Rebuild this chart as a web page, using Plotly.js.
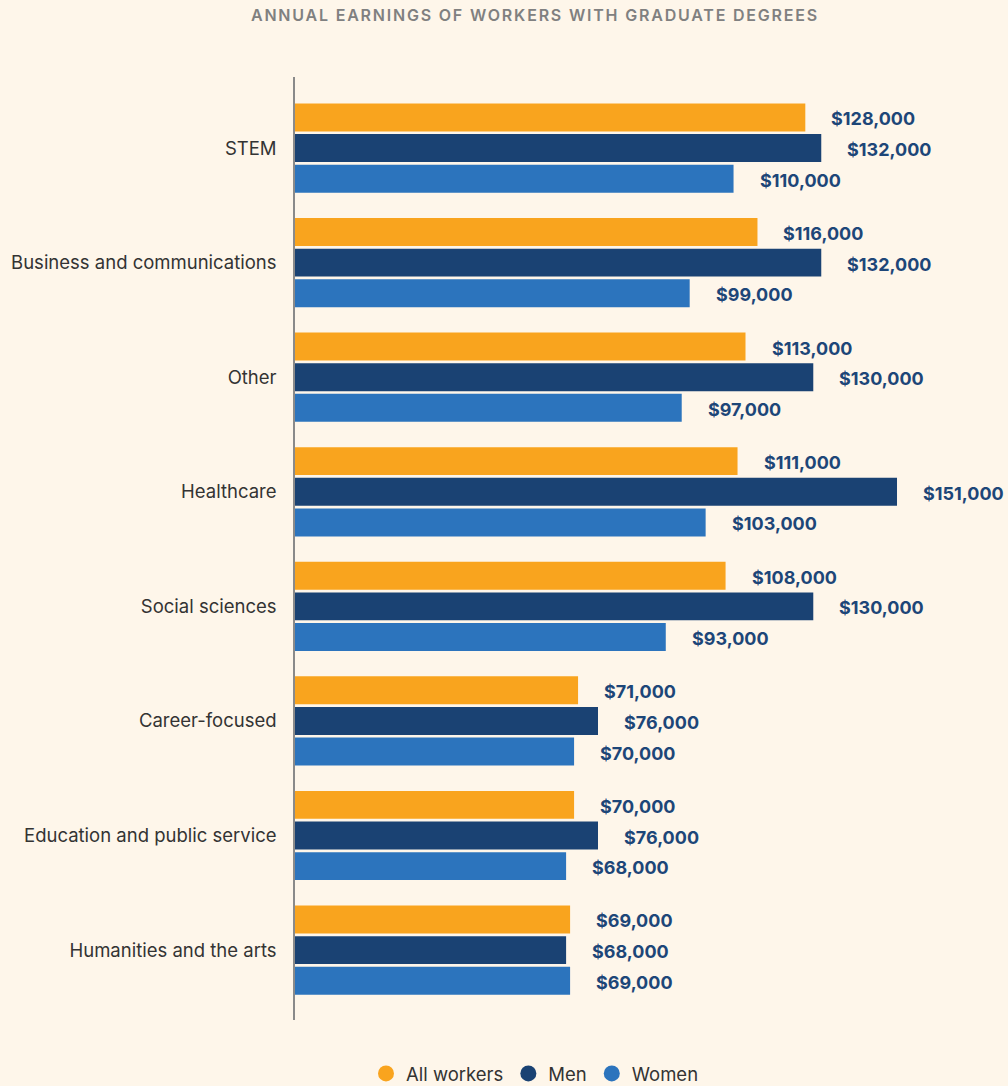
<!DOCTYPE html>
<html>
<head>
<meta charset="utf-8">
<script src="https://cdn.plot.ly/plotly-3.0.1.min.js"></script>
<style>
  html, body { margin: 0; padding: 0; background: #fef6ea; }
  #myPlot { width: 1008px; height: 1086px; }
  /* spaced-out heading like the original */
  #myPlot .gtitle { letter-spacing: 1.8px; }
</style>
</head>
<body>
<div id="myPlot"></div>
<script>
/**
 * Data
 */
const categories = [
  "STEM",
  "Business and communications",
  "Other",
  "Healthcare",
  "Social sciences",
  "Career-focused",
  "Education and public service",
  "Humanities and the arts"
];

const allWorkers = [128000, 116000, 113000, 111000, 108000, 71000, 70000, 69000];
const men = [132000, 132000, 130000, 151000, 130000, 76000, 76000, 68000];
const women = [110000, 99000, 97000, 103000, 93000, 70000, 68000, 69000];

const seriesNames = ["All workers", "Men", "Women"];

const colors = {
  orange: "#f9a41e",
  navy: "#1a4273",
  blue: "#2c74bd",
  label: "#1d4678",
  text: "#333333",
  title: "#808080",
  bg: "#fef6ea"
};

const seriesColors = [colors.orange, colors.navy, colors.blue];
const seriesValues = [allWorkers, men, women];

const fontFamily = "Inter, 'Noto Sans', sans-serif";

/**
 * Bars (legend handled by dummy circle traces)
 */
const data = seriesValues.map((vals, i) => ({
  type: "bar",
  orientation: "h",
  x: vals,
  y: categories,
  name: seriesNames[i],
  marker: { color: seriesColors[i] },
  showlegend: false,
  hoverinfo: "x+name"
}));

seriesNames.forEach((name, i) => {
  data.push({
    type: "scatter",
    mode: "markers",
    x: [null],
    y: [null],
    name: name,
    marker: { color: seriesColors[i], size: 20, symbol: "circle" },
    showlegend: true
  });
});

/**
 * Value labels next to each bar
 */
const fmt = v => "$" + v.toLocaleString("en-US");
const slot = 30.7;
const annotations = [];
seriesValues.forEach((vals, i) => {
  vals.forEach((v, j) => {
    annotations.push({
      x: v,
      y: categories[j],
      xref: "x",
      yref: "y",
      text: fmt(v),
      showarrow: false,
      xanchor: "left",
      yanchor: "middle",
      xshift: 24,
      yshift: (1 - i) * slot - 1.5,
      font: { family: fontFamily, size: 18, color: colors.label, weight: 700 }
    });
  });
});

/**
 * Layout
 */
const layout = {
  width: 1008,
  height: 1086,
  paper_bgcolor: colors.bg,
  plot_bgcolor: colors.bg,
  margin: { l: 295, r: 0, t: 77, b: 66, autoexpand: false },
  title: {
    text: "ANNUAL EARNINGS OF WORKERS WITH GRADUATE DEGREES",
    font: { family: fontFamily, size: 16, color: colors.title, weight: 600 },
    x: 535 / 1008,
    xanchor: "center",
    xref: "container",
    y: 1 - 15 / 1086,
    yanchor: "middle",
    yref: "container"
  },
  barmode: "group",
  bargap: 0.198,
  bargroupgap: 0.088,
  xaxis: {
    range: [0, 178840],
    showgrid: false,
    zeroline: false,
    showticklabels: false,
    showline: false,
    fixedrange: true
  },
  yaxis: {
    type: "category",
    range: [7.61, -0.62],
    showgrid: false,
    zeroline: false,
    showline: true,
    linecolor: "#8a8a8a",
    linewidth: 1.5,
    ticks: "outside",
    ticklen: 13,
    tickcolor: "rgba(0,0,0,0)",
    tickfont: { family: fontFamily, size: 18.5, color: colors.text },
    fixedrange: true
  },
  showlegend: true,
  legend: {
    orientation: "h",
    x: (535 - 295) / 713,
    xanchor: "center",
    y: -0.037,
    yanchor: "top",
    font: { family: fontFamily, size: 18.5, color: colors.text },
    bgcolor: "rgba(0,0,0,0)",
    itemwidth: 30
  },
  annotations: annotations
};

Plotly.newPlot("myPlot", data, layout, { displayModeBar: false });
</script>
</body>
</html>
